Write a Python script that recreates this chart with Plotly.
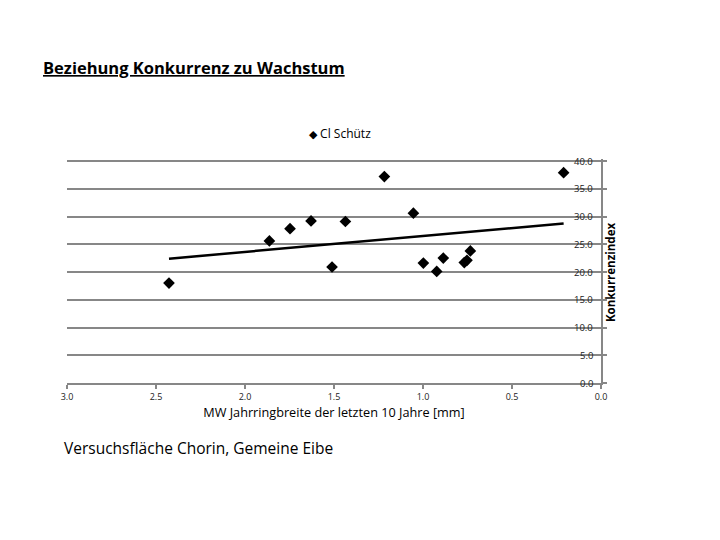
import numpy as np
import plotly.graph_objects as go

# Data
ring_width = [2.427, 1.863, 1.747, 1.629, 1.511, 1.436, 1.217, 1.054, 0.998,
              0.923, 0.886, 0.768, 0.753, 0.734, 0.21]
comp_index = [18.0, 25.6, 27.8, 29.2, 20.9, 29.1, 37.2, 30.6, 21.6,
              20.1, 22.5, 21.7, 22.1, 23.8, 37.9]
series_name = "Cl Schütz"
x_ticks = [3.0, 2.5, 2.0, 1.5, 1.0, 0.5, 0.0]
y_ticks = [0, 5, 10, 15, 20, 25, 30, 35, 40]

# Linear trend line (least squares, as in the original chart)
slope, intercept = np.polyfit(ring_width, comp_index, 1)
trend_x = [min(ring_width), max(ring_width)]
trend_y = [slope * v + intercept for v in trend_x]

grid = "#878787"
font = "Open Sans"

fig = go.Figure()
fig.add_trace(go.Scatter(
    x=ring_width, y=comp_index, mode="markers", name=series_name,
    marker=dict(symbol="diamond", size=9, color="black"),
))
fig.add_trace(go.Scatter(
    x=trend_x, y=trend_y, mode="lines", showlegend=False,
    line=dict(color="black", width=2.5),
))

annotations = [
    dict(text="<b><u>Beziehung Konkurrenz zu Wachstum</u></b>",
         xref="paper", yref="paper", x=-0.048, y=1.41,
         xanchor="left", yanchor="middle", showarrow=False,
         font=dict(size=16.5, family=font, color="black")),
    dict(text="Versuchsfläche Chorin, Gemeine Eibe",
         xref="paper", yref="paper", x=-0.01, y=-0.288,
         xanchor="left", yanchor="middle", showarrow=False,
         font=dict(size=15.5, family=font, color="black")),
    dict(text='<span style="font-size:11px">◆</span> ' + series_name,
         xref="paper", yref="paper", x=0.449, y=1.115,
         xanchor="left", yanchor="middle", showarrow=False,
         font=dict(size=12, family=font, color="black")),
    dict(text="<b>Konkurrenzindex</b>", textangle=-90,
         xref="paper", yref="paper", x=1.0, xshift=9, y=0.495,
         xanchor="center", yanchor="middle", showarrow=False,
         font=dict(size=11.5, family=font, color="black")),
]
# y tick labels, drawn left of the right-hand axis line
for v in y_ticks:
    annotations.append(dict(
        text=f"{v:.1f}", xref="x", yref="y", x=0.0, y=v,
        xanchor="right", yanchor="middle", xshift=-6, showarrow=False,
        font=dict(size=9.5, family=font, color="#222222")))

fig.update_layout(
    width=720, height=540,
    paper_bgcolor="white", plot_bgcolor="white",
    margin=dict(l=59, r=127, t=151, b=165),
    font=dict(family=font, color="black"),
    showlegend=False,
    xaxis=dict(
        range=[3.0, 0.0], tickvals=x_ticks, tickformat=".1f",
        showgrid=False, zeroline=False, automargin=False,
        showline=True, linecolor=grid, linewidth=2,
        ticks="outside", ticklen=4, tickcolor=grid, tickwidth=2,
        tickfont=dict(size=9, family=font, color="#222222"),
        title=dict(text="MW Jahrringbreite der letzten 10 Jahre [mm]",
                   font=dict(size=12.7, family=font), standoff=2),
    ),
    yaxis=dict(
        range=[0, 40.36], tickvals=y_ticks,
        side="right", showticklabels=False, automargin=False,
        showgrid=True, gridcolor=grid, gridwidth=2,
        zeroline=False,
        showline=True, linecolor=grid, linewidth=2,
        ticks="outside", ticklen=4, tickcolor=grid, tickwidth=2,
    ),
    annotations=annotations,
)

fig.write_html("out.html")
